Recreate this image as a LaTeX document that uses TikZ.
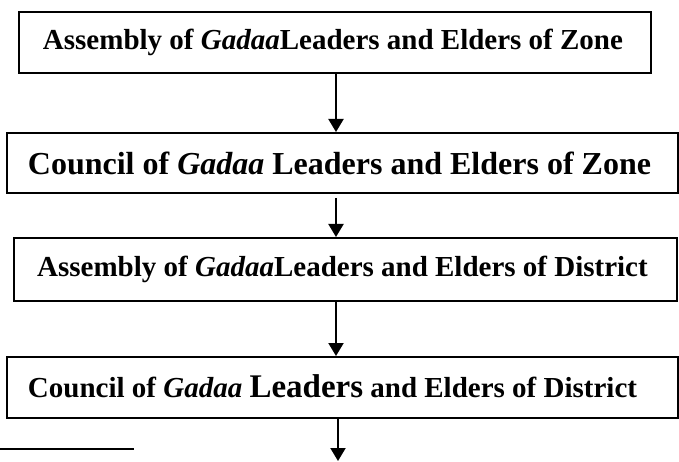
\documentclass[tikz,border=0pt]{standalone}
\usepackage{fontspec}
\setmainfont{Liberation Serif}
\usetikzlibrary{arrows.meta}
\tikzset{
  box/.style={draw=black, line width=2pt, inner sep=0pt, font=\bfseries\fontsize{29}{32}\selectfont},
  bigbox/.style={box, font=\bfseries\fontsize{32}{35}\selectfont},
  arr/.style={line width=2pt, -{Triangle[length=13pt,width=15pt]}},
  rule/.style={line width=2pt}
}
\begin{document}
\begin{tikzpicture}[x=1pt,y=-1pt]
\useasboundingbox (0,0) rectangle (679,462);
\node[box, minimum width=632pt, minimum height=61pt] (b1) at (335,42.5)
  {Assembly of \textit{Gadaa}Leaders and Elders of Zone\hspace*{4pt}};
\node[bigbox, minimum width=671pt, minimum height=60pt] (b2) at (342.5,163)
  {Council of \textit{Gadaa} Leaders and Elders of Zone\hspace*{6pt}};
\node[box, minimum width=663pt, minimum height=63pt] (b3) at (345.5,269.5)
  {Assembly of \textit{Gadaa}Leaders and Elders of District\hspace*{6pt}};
\node[box, minimum width=671pt, minimum height=61pt] (b4) at (342.5,387.5)
  {\raisebox{3pt}{Council of \textit{Gadaa} {\fontsize{33}{35}\selectfont Leaders} and Elders of District}\hspace*{20pt}};
\coordinate (xa) at (336,0);
\coordinate (xb) at (338,0);
\coordinate (s2) at (336,198);
\coordinate (e4) at (338,461);
\coordinate (r1) at (0,449);
\coordinate (r2) at (134,449);
\draw[arr] (b1.south -| xa) -- (b2.north -| xa);
\draw[arr] (s2) -- (b3.north -| s2);
\draw[arr] (b3.south -| xa) -- (b4.north -| xa);
\draw[arr] (b4.south -| xb) -- (e4);
\draw[rule] (r1) -- (r2);
\end{tikzpicture}
\end{document}
